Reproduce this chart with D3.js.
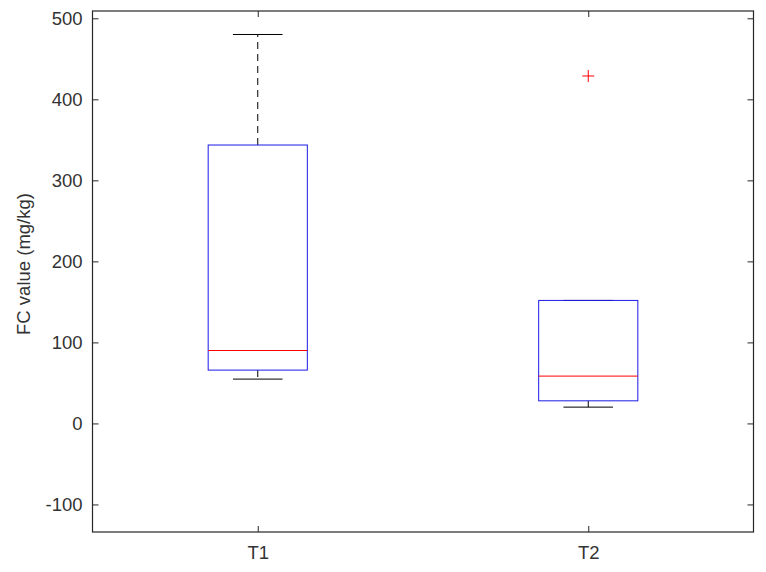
<!DOCTYPE html>
<html>
<head>
<meta charset="utf-8">
<script src="https://cdn.jsdelivr.net/npm/d3@7"></script>
<style>
  html, body { margin: 0; padding: 0; background: #fff; }
  svg { display: block; }
</style>
</head>
<body>
<svg id="chart" width="766" height="572"></svg>
<script>
// ---- data ----
const categories = ["T1", "T2"];
const lowerWhisker = [54.7, 20.1];
const q1 = [65.8, 27.9];
const median = [90.0, 58.4];
const q3 = [343.6, 151.8];
const upperWhisker = [480.0, 151.8];
const outliers = [[], [428.8]];
const yTicks = [-100, 0, 100, 200, 300, 400, 500];
const yLabel = "FC value (mg/kg)";

// ---- layout ----
const plot = { left: 92.5, right: 753.5, top: 11, bottom: 532 };
const svg = d3.select("#chart");

const x = d3.scaleLinear().domain([0.5, 2.5]).range([plot.left, plot.right]);
const y = d3.scaleLinear().domain([-134, 509]).range([plot.bottom, plot.top]);

const boxHalf = 0.15; // in x units
const capHalf = 0.075;
const font = "'Liberation Sans', Arial, Helvetica, sans-serif";
const axisColor = "#262626";
const textColor = "#333333";
const fontSize = "18.5px";

// axes (inward ticks on all four sides)
const tickLen = 6;
const yAxisL = d3.axisLeft(y).tickValues(yTicks).tickFormat(d => String(d))
  .tickSizeInner(-tickLen).tickSizeOuter(0).tickPadding(10);
const yAxisR = d3.axisRight(y).tickValues(yTicks).tickSizeInner(-tickLen).tickSizeOuter(0).tickFormat("");
const xAxisB = d3.axisBottom(x).tickValues([1, 2]).tickFormat((d, i) => categories[i])
  .tickSizeInner(-tickLen).tickSizeOuter(0).tickPadding(14);
const xAxisT = d3.axisTop(x).tickValues([1, 2]).tickSizeInner(-tickLen).tickSizeOuter(0).tickFormat("");

function styleAxis(g) {
  g.select(".domain").remove();
  g.selectAll(".tick line").attr("stroke", axisColor).attr("stroke-width", 1);
  g.selectAll(".tick text").attr("fill", textColor).style("font-family", font).style("font-size", fontSize);
}

svg.append("g").attr("transform", `translate(${plot.left},0)`).call(yAxisL).call(styleAxis);
svg.append("g").attr("transform", `translate(${plot.right},0)`).call(yAxisR).call(styleAxis);
svg.append("g").attr("transform", `translate(0,${plot.bottom})`).call(xAxisB).call(styleAxis);
svg.append("g").attr("transform", `translate(0,${plot.top})`).call(xAxisT).call(styleAxis);

// frame
svg.append("rect")
  .attr("x", plot.left).attr("y", plot.top)
  .attr("width", plot.right - plot.left).attr("height", plot.bottom - plot.top)
  .attr("fill", "none").attr("stroke", axisColor).attr("stroke-width", 1.2);

// boxes
const boxes = svg.append("g");
categories.forEach((c, i) => {
  const cx = x(i + 1);
  const g = boxes.append("g");
  // whiskers (dashed)
  g.append("line").attr("x1", cx).attr("x2", cx).attr("y1", y(q3[i])).attr("y2", y(upperWhisker[i]))
    .attr("stroke", "#000").attr("stroke-dasharray", "7,5").attr("stroke-width", 1);
  g.append("line").attr("x1", cx).attr("x2", cx).attr("y1", y(q1[i])).attr("y2", y(lowerWhisker[i]))
    .attr("stroke", "#000").attr("stroke-dasharray", "7,5").attr("stroke-width", 1);
  // caps
  [upperWhisker[i], lowerWhisker[i]].forEach(v => {
    g.append("line").attr("x1", x(i + 1 - capHalf)).attr("x2", x(i + 1 + capHalf))
      .attr("y1", y(v)).attr("y2", y(v)).attr("stroke", "#000").attr("stroke-width", 1);
  });
  // box
  g.append("rect")
    .attr("x", x(i + 1 - boxHalf)).attr("y", y(q3[i]))
    .attr("width", x(i + 1 + boxHalf) - x(i + 1 - boxHalf))
    .attr("height", y(q1[i]) - y(q3[i]))
    .attr("fill", "none").attr("stroke", "#1a1ae6").attr("stroke-width", 1);
  // median
  g.append("line").attr("x1", x(i + 1 - boxHalf)).attr("x2", x(i + 1 + boxHalf))
    .attr("y1", y(median[i])).attr("y2", y(median[i]))
    .attr("stroke", "#ff0000").attr("stroke-width", 1);
  // outliers
  outliers[i].forEach(v => {
    const oy = y(v), s = 6;
    g.append("line").attr("x1", cx - s).attr("x2", cx + s).attr("y1", oy).attr("y2", oy).attr("stroke", "#ff0000");
    g.append("line").attr("x1", cx).attr("x2", cx).attr("y1", oy - s).attr("y2", oy + s).attr("stroke", "#ff0000");
  });
});

// y label
svg.append("text")
  .attr("transform", `translate(30,264) rotate(-90)`)
  .attr("text-anchor", "middle")
  .attr("fill", textColor)
  .style("font-family", font).style("font-size", fontSize)
  .text(yLabel);
</script>
</body>
</html>
